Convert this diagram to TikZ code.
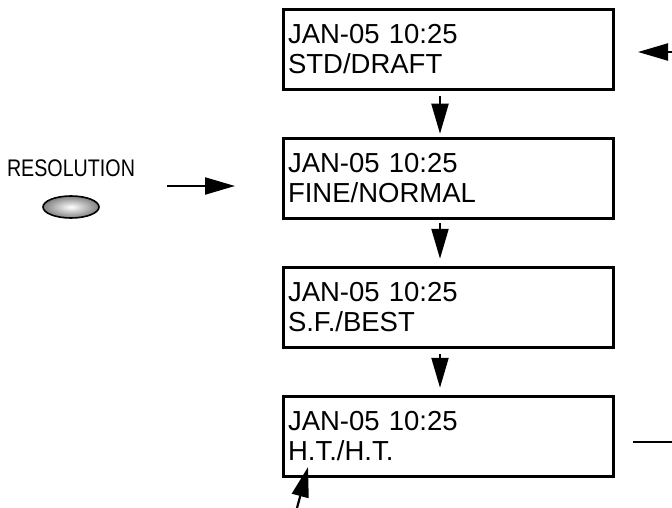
\documentclass[tikz,border=0pt]{standalone}
\usepackage{fontspec}
\setmainfont{Liberation Sans}
\usepackage{tikz}
\usetikzlibrary{arrows.meta,positioning,shapes.geometric}

\begin{document}
\begin{tikzpicture}[
    node distance=45.5pt,
    screen/.style={rectangle, draw, line width=3pt, minimum width=330pt, minimum height=80.5pt,
        inner xsep=5pt, text width=320pt, align=left, font=\fontsize{27.5}{30}\selectfont},
    button/.style={ellipse, draw, line width=1.6pt, minimum width=56pt, minimum height=22pt,
        inner sep=0pt, shading=radial, inner color=white, outer color=black!50},
    arrow/.style={-{Triangle[length=30pt,width=17pt]}, line width=2.2pt}
]
    \useasboundingbox (0,0) rectangle (672pt,-508pt);

    % Screens
    \node[screen] (S1) at (448pt,-49.5pt) {JAN-05 10:25\\STD/DRAFT};
    \node[screen, below=of S1] (S2) {JAN-05 10:25\\FINE/NORMAL};
    \node[screen, below=of S2] (S3) {JAN-05 10:25\\S.F./BEST};
    \node[screen, below=of S3] (S4) {JAN-05 10:25\\H.T./H.T.};

    % Button
    \node[font=\fontsize{24}{24}\selectfont, inner sep=0pt] (lbl) at (71pt,-168pt) {\scalebox{0.82}[1]{RESOLUTION}};
    \node[button] (btn) at (71pt,-207pt) {};

    % Free ends
    \coordinate (resA) at (167pt,-186pt);
    \coordinate (resB) at (235pt,-186pt);
    \coordinate (loopA) at (672pt,-52pt);
    \coordinate (loopB) at (638pt,-52pt);
    \coordinate (backA) at (633pt,-442pt);
    \coordinate (backB) at (672pt,-442pt);
    \coordinate (ptrA) at (297pt,-508pt);
    \coordinate (ptrB) at (308pt,-467pt);

    % Arrows
    \draw[arrow] ([xshift=-8pt,yshift=-5pt]S1.south) -- ([xshift=-8pt,yshift=3pt]S2.north);
    \draw[arrow] ([xshift=-8pt,yshift=-3pt]S2.south) -- ([xshift=-8pt,yshift=7pt]S3.north);
    \draw[arrow] ([xshift=-8pt,yshift=-5pt]S3.south) -- ([xshift=-8pt,yshift=7pt]S4.north);

    \draw[arrow] (resA) -- (resB);
    \draw[arrow] (loopA) -- (loopB);
    \draw[line width=2.2pt] (backA) -- (backB);
    \draw[arrow] (ptrA) -- (ptrB);
\end{tikzpicture}
\end{document}
